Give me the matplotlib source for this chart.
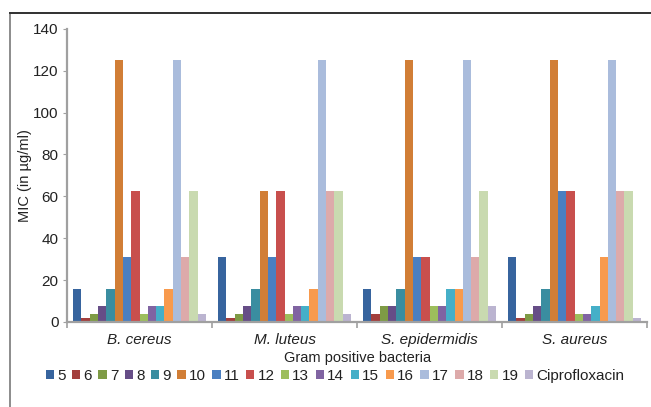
import matplotlib.pyplot as plt
import matplotlib.patches as mpatches
import numpy as np

plt.rcParams['font.family'] = ['Liberation Sans', 'DejaVu Sans']

bacteria = ['B. cereus', 'M. luteus', 'S. epidermidis', 'S. aureus']
compounds = ['5', '6', '7', '8', '9', '10', '11', '12', '13', '14',
             '15', '16', '17', '18', '19', 'Ciprofloxacin']

# MIC values (µg/ml), one list per compound across the four strains
mic = {
    '5':  [15.62, 31.25, 15.62, 31.25],
    '6':  [1.95, 1.95, 3.9, 1.95],
    '7':  [3.9, 3.9, 7.81, 3.9],
    '8':  [7.81, 7.81, 7.81, 7.81],
    '9':  [15.62, 15.62, 15.62, 15.62],
    '10': [125, 62.5, 125, 125],
    '11': [31.25, 31.25, 31.25, 62.5],
    '12': [62.5, 62.5, 31.25, 62.5],
    '13': [3.9, 3.9, 7.81, 3.9],
    '14': [7.81, 7.81, 7.81, 3.9],
    '15': [7.81, 7.81, 15.62, 7.81],
    '16': [15.62, 15.62, 15.62, 31.25],
    '17': [125, 125, 125, 125],
    '18': [31.25, 62.5, 31.25, 62.5],
    '19': [62.5, 62.5, 62.5, 62.5],
    'Ciprofloxacin': [3.9, 3.9, 7.81, 1.95],
}

colors = ['#37649e', '#a33f3d', '#7e9b45', '#664d87', '#3a8da0', '#d17e36',
          '#4a7fc1', '#c84f4d', '#9dbe5c', '#8064a2', '#45afc8', '#f89a4d',
          '#aabcdc', '#ddaaaa', '#c9dab0', '#bbb4d0']

fig = plt.figure(figsize=(6.51, 4.07), dpi=100)
ax = fig.add_axes([0.103, 0.209, 0.891, 0.720])

# outer chart border (only top and left edges fall inside the image)
fig.add_artist(mpatches.Rectangle((10 / 651, -0.1), 1.2, 1 - 13 / 407 + 0.1,
                                  transform=fig.transFigure, fill=False,
                                  edgecolor='#8c8c8c', linewidth=1.4))
fig.add_artist(plt.Line2D([10 / 651, 1], [1 - 13 / 407] * 2,
                          transform=fig.transFigure, color='#333333', lw=1.4))

x = np.arange(len(bacteria))
width = 0.0573
n = len(compounds)
for i, (name, c) in enumerate(zip(compounds, colors)):
    offs = (i - (n - 1) / 2) * width
    ax.bar(x + offs, mic[name], width, color=c, label=name)

ax.set_xlim(-0.5, len(bacteria) - 0.5)
ax.set_ylim(0, 140)
ax.set_yticks(range(0, 141, 20))
ax.set_xticks(x)
ax.set_xticklabels(bacteria, fontstyle='italic', fontsize=11, color='#222222')
ax.set_xticks(np.arange(-0.5, len(bacteria)), minor=True)
ax.tick_params(axis='x', which='major', length=0, pad=8)
ax.tick_params(axis='x', which='minor', length=4, color='#a0a0a0', width=1.2)
ax.tick_params(axis='y', length=3, color='#a0a0a0', labelsize=11, pad=3,
               labelcolor='#222222')

for s in ['top', 'right']:
    ax.spines[s].set_visible(False)
for s in ['left', 'bottom']:
    ax.spines[s].set_color('#a0a0a0')
    ax.spines[s].set_linewidth(1.6)

ax.set_ylabel('MIC (in µg/ml)', fontsize=10.5, labelpad=1, color='#222222')
ax.set_xlabel('Gram positive bacteria', fontsize=10.5, labelpad=3,
              color='#222222')

ax.legend(loc='center', bbox_to_anchor=(335 / 651, 1 - 376 / 407),
          bbox_transform=fig.transFigure, ncol=16, frameon=False, fontsize=11,
          handlelength=0.55, handleheight=0.55, handletextpad=0.2,
          columnspacing=0.42, labelcolor='#222222')

fig.savefig('out.png', dpi=100)
